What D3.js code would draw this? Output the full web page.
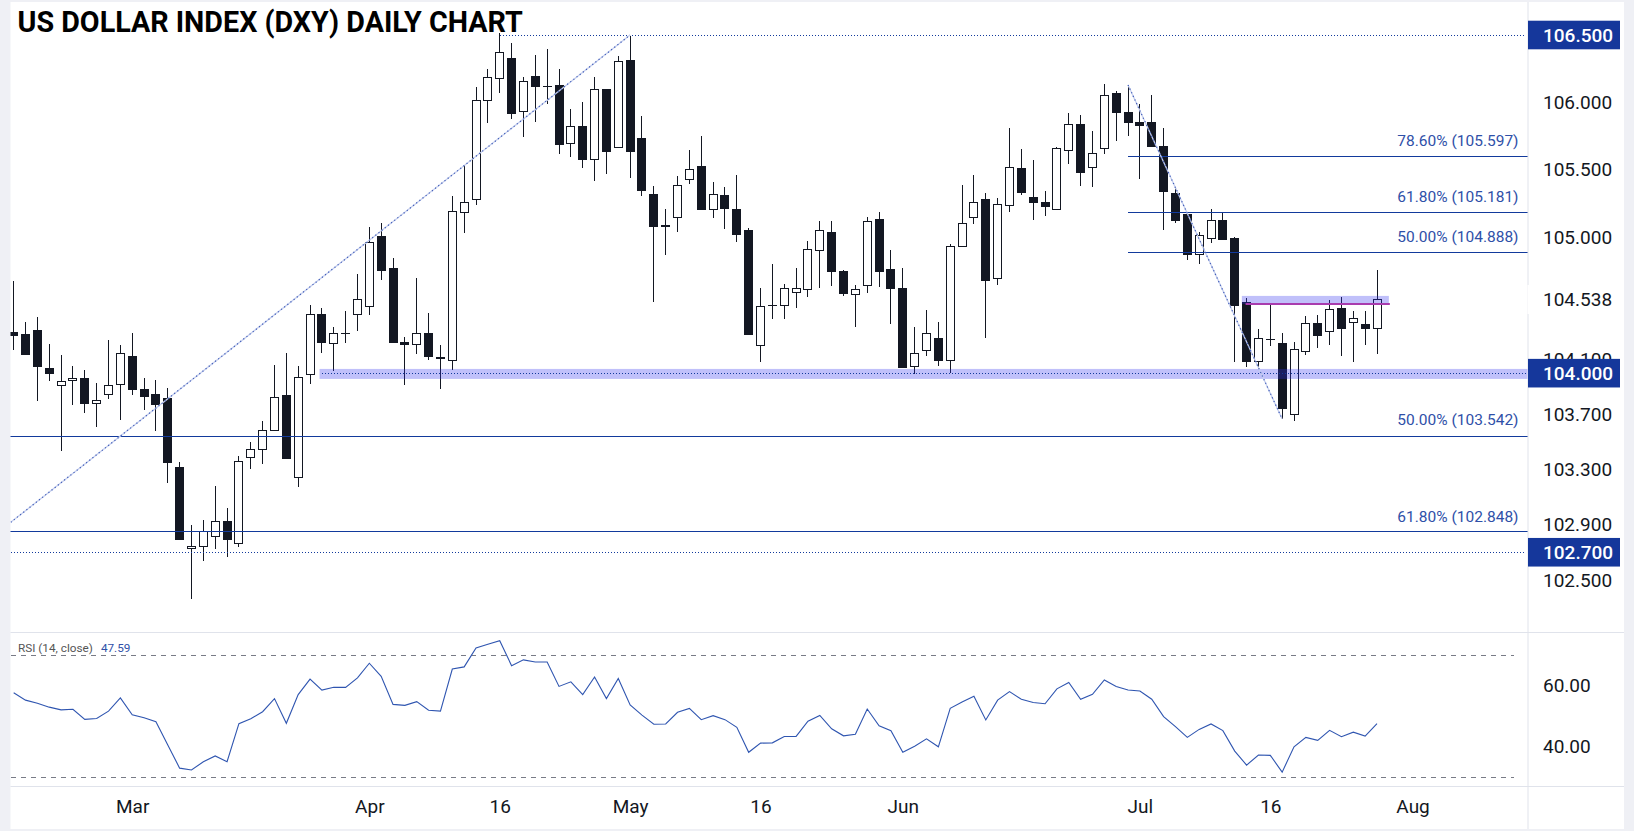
<!DOCTYPE html>
<html>
<head>
<meta charset="utf-8">
<style>
html, body { margin: 0; padding: 0; background: #eff0f5; overflow: hidden; }
text { font-family: Roboto, "Noto Sans", sans-serif; }
</style>
<script src="https://cdn.jsdelivr.net/npm/d3@7"></script>
</head>
<body>
<svg id="chart" width="1634" height="831"></svg>
<script>
var titleText = "US DOLLAR INDEX (DXY) DAILY CHART";

// daily candles, one entry per bar
var opens = [104.299,104.284,104.316,104.038,103.909,103.948,103.965,103.781,103.843,103.916,
104.126,103.885,103.848,103.819,103.317,102.729,102.740,102.812,102.926,102.762,
103.388,103.443,103.581,103.841,103.240,103.989,104.433,104.218,104.291,104.431,
104.489,105.007,104.771,104.228,104.213,104.291,104.118,104.091,105.179,105.275,
106.010,106.174,106.328,105.928,106.194,106.117,106.127,105.690,105.822,105.571,
106.097,105.665,106.313,105.733,105.317,105.088,105.140,105.421,105.524,105.199,
105.310,105.206,105.051,104.201,104.497,104.494,104.589,104.612,104.899,105.037,
104.749,104.574,104.641,105.133,104.764,104.624,104.048,104.164,104.257,104.091,
104.927,105.142,105.280,104.693,105.231,105.509,105.295,105.258,105.201,105.638,
105.837,105.512,105.653,106.067,105.926,105.851,105.851,105.673,105.324,105.169,
104.869,104.987,105.125,104.992,104.521,104.084,104.248,104.221,103.698,104.157,
104.367,104.303,104.477,104.369,104.360,104.325];
var highs = [104.676,104.374,104.411,104.213,104.133,104.053,104.024,103.929,104.243,104.206,
104.294,103.965,103.951,103.892,103.354,102.897,102.933,103.180,103.020,103.397,
103.499,103.652,104.060,104.148,104.053,104.499,104.477,104.338,104.455,104.727,
105.071,105.101,104.843,104.264,104.696,104.438,104.206,105.300,105.529,106.112,
106.246,106.512,106.440,106.186,106.350,106.395,106.246,105.948,106.000,106.186,
106.097,106.343,106.492,105.896,105.376,105.206,105.450,105.643,105.747,105.406,
105.369,105.458,105.066,104.624,104.801,104.654,104.771,104.970,105.118,105.118,
104.757,104.646,105.147,105.184,104.904,104.771,104.338,104.462,104.374,104.948,
105.383,105.458,105.324,105.287,105.807,105.651,105.569,105.339,105.665,105.918,
105.903,105.785,106.134,106.082,106.127,105.985,106.052,105.807,105.361,105.169,
105.037,105.206,105.184,105.000,104.550,104.323,104.499,104.294,104.228,104.418,
104.426,104.536,104.558,104.455,104.455,104.757];
var lows = [104.170,104.133,103.797,103.943,103.433,103.768,103.710,103.608,103.812,103.659,
103.841,103.732,103.579,103.201,102.789,102.364,102.637,102.724,102.666,102.738,
103.303,103.339,103.579,103.375,103.172,103.921,104.148,104.016,104.221,104.308,
104.426,104.683,104.220,103.914,104.143,104.097,103.885,104.024,105.029,105.236,
105.846,106.067,105.874,105.740,105.851,105.985,105.613,105.591,105.509,105.413,
105.465,105.665,105.435,105.302,104.521,104.867,105.037,105.391,105.199,105.140,
105.059,104.963,104.279,104.082,104.396,104.396,104.477,104.558,104.624,104.639,
104.566,104.338,104.588,104.632,104.360,104.038,103.994,104.126,104.053,104.002,
104.927,105.096,104.257,104.646,105.184,105.310,105.125,105.155,105.201,105.539,
105.376,105.369,105.613,105.710,105.747,105.428,105.665,105.051,105.103,104.830,
104.801,104.955,104.978,104.082,104.045,104.031,104.199,103.666,103.654,104.133,
104.184,104.206,104.126,104.082,104.206,104.140];
var closes = [104.274,104.133,104.048,103.994,103.941,103.963,103.775,103.799,103.912,104.146,
103.877,103.826,103.768,103.346,102.789,102.743,102.851,102.924,102.789,103.359,
103.446,103.584,103.824,103.375,103.970,104.431,104.221,104.291,104.291,104.541,
104.961,104.749,104.220,104.208,104.287,104.121,104.106,105.189,105.256,106.013,
106.184,106.371,105.911,106.154,106.112,106.117,105.681,105.819,105.569,106.095,
105.628,106.303,105.628,105.339,105.073,105.073,105.381,105.500,105.199,105.315,
105.206,105.014,104.279,104.489,104.497,104.622,104.622,104.909,105.049,104.742,
104.580,104.614,105.116,104.742,104.617,104.038,104.146,104.292,104.089,104.931,
105.101,105.256,104.676,105.241,105.515,105.324,105.251,105.221,105.655,105.834,
105.472,105.618,106.050,105.918,105.844,105.822,105.665,105.332,105.118,104.867,
105.012,105.123,104.978,104.492,104.082,104.255,104.248,103.739,104.175,104.365,
104.272,104.467,104.323,104.402,104.323,104.541];

var rsiValues = [57.7,55.3,54.3,53.0,52.1,52.3,49.0,49.3,51.7,56.0,
50.5,49.5,48.2,40.6,33.0,32.4,35.1,37.0,35.1,47.6,
49.2,51.5,55.8,47.7,57.1,62.2,58.6,59.5,59.5,62.6,
67.4,63.1,53.9,53.6,54.8,52.0,51.7,65.5,66.2,72.4,
73.6,74.8,66.6,68.5,67.8,67.8,59.8,61.3,57.1,62.9,
55.8,62.4,53.7,50.4,47.4,47.5,51.3,52.6,48.9,50.2,
48.9,46.4,38.2,41.2,41.3,43.4,43.4,48.4,50.3,45.9,
43.6,44.1,52.4,46.9,45.3,38.2,40.2,42.6,40.0,52.6,
54.7,56.6,48.8,55.3,58.1,55.6,54.5,54.1,59.0,61.1,
55.6,57.2,61.9,59.8,58.6,58.3,55.6,49.9,46.6,43.1,
45.7,47.5,45.3,38.6,34.0,37.3,37.2,31.7,40.0,43.1,
42.1,45.4,43.3,44.8,43.5,47.59];
var rsiBands = [70, 30];
var rsiTicks = [60, 40];

var priceTicks = [106, 105.5, 105, 104.1, 103.7, 103.3, 102.9, 102.5];
var boxedPrices = [106.5, 104, 102.7];
var lastPrice = 104.538;

var timeTicks = [10, 30, 41, 52, 63, 75, 95, 106, 118];
var timeLabels = ["Mar", "Apr", "16", "May", "16", "Jun", "Jul", "16", "Aug"];

// fibonacci levels: start bar of the line, price, label
var fibStarts = [94, 94, 94, -1, -1];
var fibPrices = [105.597, 105.181, 104.888, 103.542, 102.848];
var fibLabels = ["78.60% (105.597)", "61.80% (105.181)", "50.00% (104.888)", "50.00% (103.542)", "61.80% (102.848)"];

// dotted levels and shaded zones [first bar, last bar, upper, lower]
var dottedStarts = [41, 26, -1];
var dottedPrices = [106.5, 104, 102.7];
var zoneBars = [[25.8, 130], [103.6, 116]];
var zonePrices = [[104.031, 103.958], [104.566, 104.506]];
var purpleBars = [104, 116];
var purplePrice = 104.506;

// trend lines [bar, price] pairs
var upTrend = [[-0.25, 102.916], [52, 106.5]];
var downTrend = [[94, 106.127], [107, 103.666]];

var axisX = 1528, leftX = 10.5, rightX = 1624;
var navy = "#15379b", fibBlue = "#123a9c", textBlue = "#2f50a8", dark = "#131722", grid = "#e0e3eb";

var svg = d3.select("#chart");
var x = d3.scaleLinear().domain([0, 115]).range([13.67, 1377]);
var y = d3.scaleLog().domain([106, 102.5]).range([102, 580]);
var yRsi = d3.scaleLinear().domain([70, 30]).range([655.3, 777.3]);

svg.append("rect").attr("x", leftX).attr("y", 2).attr("width", rightX - leftX).attr("height", 827).attr("fill", "#fff");

svg.append("defs").append("clipPath").attr("id", "pane")
    .append("rect").attr("x", leftX).attr("y", 2).attr("width", axisX - leftX).attr("height", 630);

var pane = svg.append("g").attr("clip-path", "url(#pane)");

// candles
var bars = d3.range(opens.length);
pane.selectAll(".wick").data(bars).enter().append("line")
    .attr("class", "wick")
    .attr("x1", function(d) { return x(d); })
    .attr("x2", function(d) { return x(d); })
    .attr("y1", function(d) { return y(highs[d]); })
    .attr("y2", function(d) { return y(lows[d]); })
    .attr("stroke", dark).attr("stroke-width", 1)
    .attr("shape-rendering", "crispEdges");

pane.selectAll(".body").data(bars).enter().append("rect")
    .attr("class", "body")
    .attr("x", function(d) { return closes[d] > opens[d] ? x(d) - 4 : x(d) - 4.5; })
    .attr("width", function(d) { return closes[d] > opens[d] ? 8 : 9; })
    .attr("y", function(d) { return y(Math.max(opens[d], closes[d])) - (opens[d] == closes[d] ? 0.7 : 0); })
    .attr("height", function(d) { return Math.max(1.4, Math.abs(y(opens[d]) - y(closes[d]))); })
    .attr("fill", function(d) { return closes[d] > opens[d] ? "#fff" : dark; })
    .attr("stroke", function(d) { return closes[d] > opens[d] ? dark : "none"; })
    .attr("stroke-width", 1)
    .attr("shape-rendering", "crispEdges");

// shaded zones
zoneBars.forEach(function(b, i) {
    pane.append("rect")
        .attr("x", x(b[0])).attr("width", x(b[1]) - x(b[0]))
        .attr("y", y(zonePrices[i][0])).attr("height", y(zonePrices[i][1]) - y(zonePrices[i][0]))
        .attr("fill", "rgba(48,48,240,0.3)");
});

// fib lines
fibPrices.forEach(function(p, i) {
    pane.append("line")
        .attr("x1", x(fibStarts[i])).attr("x2", axisX)
        .attr("y1", y(p)).attr("y2", y(p))
        .attr("stroke", fibBlue).attr("stroke-width", 1)
        .attr("shape-rendering", "crispEdges");
    svg.append("text")
        .attr("x", 1518.5).attr("y", y(p) - (i == 3 ? 11.3 : 10))
        .attr("text-anchor", "end")
        .attr("font-size", 15.5)
        .attr("fill", textBlue)
        .text(fibLabels[i]);
});

// dotted levels
dottedPrices.forEach(function(p, i) {
    pane.append("line")
        .attr("x1", x(dottedStarts[i])).attr("x2", axisX - 2)
        .attr("y1", y(p)).attr("y2", y(p))
        .attr("stroke", fibBlue).attr("stroke-width", 1)
        .attr("stroke-dasharray", "1 2")
        .attr("shape-rendering", "crispEdges");
});

// trend lines
var trendLine = d3.line().x(function(d) { return x(d[0]); }).y(function(d) { return y(d[1]); });
[upTrend, downTrend].forEach(function(t) {
    pane.append("path").attr("d", trendLine(t))
        .attr("fill", "none").attr("stroke", "#c6cfee").attr("stroke-width", 1.3);
    pane.append("path").attr("d", trendLine(t))
        .attr("fill", "none").attr("stroke", "#3f5cb8").attr("stroke-width", 1.2)
        .attr("stroke-dasharray", "1.2 2.8");
});

pane.append("line")
    .attr("x1", x(purpleBars[0]) - 1).attr("x2", x(purpleBars[1]) + 1)
    .attr("y1", y(purplePrice)).attr("y2", y(purplePrice))
    .attr("stroke", "#a93cae").attr("stroke-width", 2);

// frame lines
svg.append("line").attr("x1", axisX).attr("x2", axisX).attr("y1", 2).attr("y2", 829).attr("stroke", grid).attr("stroke-width", 1);
svg.append("line").attr("x1", leftX).attr("x2", rightX).attr("y1", 632.5).attr("y2", 632.5).attr("stroke", grid).attr("stroke-width", 1);
svg.append("line").attr("x1", leftX).attr("x2", rightX).attr("y1", 786.5).attr("y2", 786.5).attr("stroke", grid).attr("stroke-width", 1);

// price axis
var priceAxis = d3.axisRight(y).tickValues(priceTicks).tickSize(0).tickPadding(15).tickFormat(d3.format(".3f"));
var priceG = svg.append("g").attr("transform", "translate(" + axisX + ",0)").call(priceAxis);
priceG.select(".domain").remove();
priceG.selectAll("text").attr("font-size", 19).attr("font-family", "Roboto").attr("fill", dark);

svg.append("rect").attr("x", axisX - 0.5).attr("y", 285).attr("width", 91).attr("height", 29).attr("fill", "#fff");
svg.append("text")
    .attr("x", axisX + 15).attr("y", y(lastPrice) + 6.5)
    .attr("font-size", 19).attr("fill", dark)
    .text(d3.format(".3f")(lastPrice));

boxedPrices.forEach(function(p) {
    svg.append("rect")
        .attr("x", axisX).attr("y", y(p) - 14.3)
        .attr("width", 92).attr("height", 28.6)
        .attr("fill", navy);
    svg.append("text")
        .attr("x", axisX + 15).attr("y", y(p) + 6.8)
        .attr("font-size", 19).attr("font-weight", 500).attr("fill", "#fff")
        .text(d3.format(".3f")(p));
});

// rsi pane
rsiBands.forEach(function(v) {
    svg.append("line")
        .attr("x1", leftX).attr("x2", 1514)
        .attr("y1", yRsi(v)).attr("y2", yRsi(v))
        .attr("stroke", "#787b86").attr("stroke-width", 1)
        .attr("stroke-dasharray", "5 5")
        .attr("shape-rendering", "crispEdges");
});

var rsiLine = d3.line().x(function(d, i) { return x(i); }).y(function(d) { return yRsi(d); });
svg.append("path").datum(rsiValues).attr("d", rsiLine)
    .attr("fill", "none").attr("stroke", "#2f55b0").attr("stroke-width", 1.1);

var rsiAxis = d3.axisRight(yRsi).tickValues(rsiTicks).tickSize(0).tickPadding(15).tickFormat(d3.format(".2f"));
var rsiG = svg.append("g").attr("transform", "translate(" + axisX + ",0)").call(rsiAxis);
rsiG.select(".domain").remove();
rsiG.selectAll("text").attr("font-size", 19).attr("font-family", "Roboto").attr("fill", dark);

var rsiTitle = svg.append("text").attr("x", 18).attr("y", 652).attr("font-size", 11.75);
rsiTitle.append("tspan").attr("fill", "#555").text("RSI (14, close)");
rsiTitle.append("tspan").attr("fill", textBlue).attr("dx", 8).text(d3.format(".2f")(rsiValues[rsiValues.length - 1]));

// time axis
var timeAxis = d3.axisBottom(x).tickValues(timeTicks).tickSize(0).tickPadding(13)
    .tickFormat(function(d, i) { return timeLabels[i]; });
var timeG = svg.append("g").attr("transform", "translate(0,786.5)").call(timeAxis);
timeG.select(".domain").remove();
timeG.selectAll("text").attr("font-size", 19).attr("font-family", "Roboto").attr("fill", dark);

svg.append("text")
    .attr("x", 17.5).attr("y", 32)
    .attr("font-family", "'Noto Sans'").attr("font-weight", 700).attr("font-size", 28.7)
    .attr("fill", "#000")
    .text(titleText);
</script>
</body>
</html>
